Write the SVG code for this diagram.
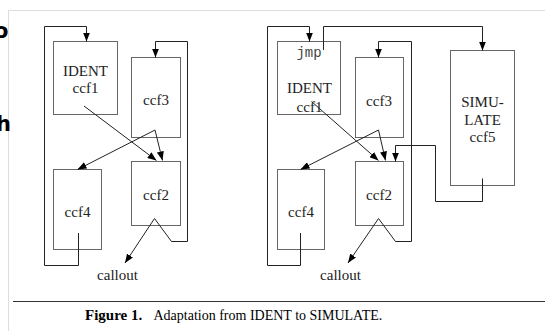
<svg xmlns="http://www.w3.org/2000/svg" width="545" height="331" viewBox="0 0 545 331">
  <style>
    .box { fill: #fff; stroke: #666; stroke-width: 1; }
    .wire { fill: none; stroke: #222; stroke-width: 1; }
    .lbl { font-family: "Liberation Serif", "Times New Roman", serif; font-size: 15px; fill: #222; text-anchor: middle; }
    .mono { font-family: "Liberation Mono", "Courier New", monospace; font-size: 14px; fill: #444; text-anchor: middle; }
    .cap { font-family: "Liberation Serif", "Times New Roman", serif; fill: #000; }
    .frag { font-family: "DejaVu Sans", sans-serif; font-size: 21px; font-weight: bold; fill: #000; }
  </style>
  <defs>
    <marker id="arrow" markerUnits="userSpaceOnUse" markerWidth="9" markerHeight="7" refX="9" refY="3.5" orient="auto">
      <path d="M0,0 L9,3.5 L0,7 z" fill="#000"/>
    </marker>
  </defs>

  <rect width="545" height="331" fill="#fff"/>

  <!-- page frame and clipped text at the margin -->
  <g id="page">
    <path d="M8.5,331 V10.5 H545" fill="none" stroke="#ddd" stroke-width="1"/>
    <text class="frag" x="-6" y="38">o</text>
    <text class="frag" x="-4" y="131">h</text>
  </g>

  <!-- left figure: IDENT -->
  <g id="l-ccf1"><rect class="box" x="53.5" y="41.5" width="64" height="73"/>
    <text class="lbl" x="85.5" y="76">IDENT</text><text class="lbl" x="85.5" y="92.5">ccf1</text></g>
  <g id="l-ccf3"><rect class="box" x="131.5" y="57.5" width="49" height="80"/>
    <text class="lbl" x="156" y="105">ccf3</text></g>
  <g id="l-ccf2"><rect class="box" x="131.5" y="161.5" width="49" height="64"/>
    <text class="lbl" x="156" y="200">ccf2</text></g>
  <g id="l-ccf4"><rect class="box" x="53.5" y="169.5" width="48" height="80"/>
    <text class="lbl" x="77.5" y="216.5">ccf4</text></g>
  <g id="l-callout"><text class="lbl" x="117.5" y="280">callout</text></g>

  <!-- right figure: SIMULATE -->
  <g id="r-ccf1"><rect class="box" x="277.5" y="41.5" width="63" height="73"/>
    <text class="mono" x="309" y="56.5">jmp</text>
    <text class="lbl" x="309.5" y="93">IDENT</text><text class="lbl" x="309.5" y="111.5">ccf1</text></g>
  <g id="r-ccf3"><rect class="box" x="355.5" y="57.5" width="48" height="80"/>
    <text class="lbl" x="379" y="106">ccf3</text></g>
  <g id="r-ccf2"><rect class="box" x="355.5" y="161.5" width="48" height="64"/>
    <text class="lbl" x="379" y="200">ccf2</text></g>
  <g id="r-ccf4"><rect class="box" x="277.5" y="169.5" width="47" height="80"/>
    <text class="lbl" x="301" y="216.5">ccf4</text></g>
  <g id="r-ccf5"><rect class="box" x="450.5" y="50.5" width="64" height="135"/>
    <text class="lbl" x="482.5" y="106.5">SIMU-</text><text class="lbl" x="482.5" y="125">LATE</text><text class="lbl" x="482.5" y="141.5">ccf5</text></g>
  <g id="r-callout"><text class="lbl" x="340.5" y="280">callout</text></g>

  <!-- connectors -->
  <g id="connectors" class="wire">
    <path marker-end="url(#arrow)" d="M78.5,233 V265.5 H44.5 V26.5 H86.5 V41.5"/>
    <path marker-end="url(#arrow)" d="M154.5,218.5 L125,263"/>
    <path marker-end="url(#arrow)" d="M154.5,218.5 L171.5,241.5 H187.5 V41.5 H155.5 V57.5"/>
    <path marker-end="url(#arrow)" d="M84,106 L156.5,160.5"/>
    <path marker-end="url(#arrow)" d="M155,130 L77.5,169.5"/>
    <path marker-end="url(#arrow)" d="M155,130 L162.5,160.5"/>

    <path marker-end="url(#arrow)" d="M300.5,233 V265.5 H267.5 V26.5 H309.5 V41.5"/>
    <path marker-end="url(#arrow)" d="M323.5,50 V26.5 H482.5 V50.5"/>
    <path marker-end="url(#arrow)" d="M378.5,218.5 L348,263"/>
    <path marker-end="url(#arrow)" d="M378.5,218.5 L395.5,241.5 H411.5 V41.5 H378.5 V57.5"/>
    <path marker-end="url(#arrow)" d="M482.5,178.5 V201.5 H435.5 V145.5 H395.5 V161.5"/>
    <path marker-end="url(#arrow)" d="M311.5,101.5 L378.5,160.5"/>
    <path marker-end="url(#arrow)" d="M378.5,130 L300.5,169.5"/>
    <path marker-end="url(#arrow)" d="M378.5,130 L385.5,160.5"/>
  </g>

  <!-- caption -->
  <g id="caption">
    <line x1="13" y1="301.5" x2="545" y2="301.5" stroke="#333" stroke-width="1"/>
    <text class="cap" x="85" y="319.5" font-size="15" font-weight="bold">Figure 1.</text>
    <text class="cap" x="153.5" y="319.5" font-size="14">Adaptation from IDENT to SIMULATE.</text>
  </g>
</svg>
